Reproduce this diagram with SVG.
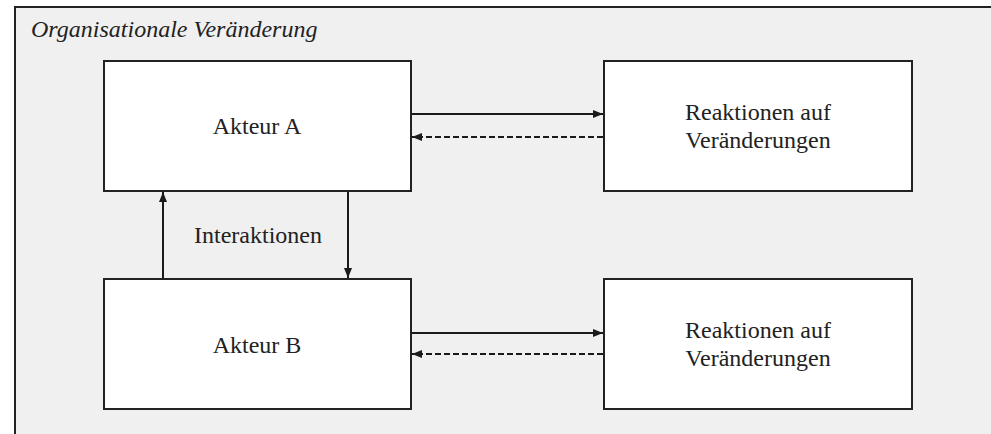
<svg xmlns="http://www.w3.org/2000/svg" width="991" height="434" viewBox="0 0 991 434">
<defs>
<marker id="ah" viewBox="0 0 10 10" refX="10" refY="5" markerWidth="10" markerHeight="10" markerUnits="userSpaceOnUse" orient="auto">
<path d="M0,1 L10,5 L0,9 Z" fill="#1a1a1a"/>
</marker>
</defs>
<style>
.serif{font-family:'Liberation Serif','Tinos','Times New Roman','DejaVu Serif',serif}
.t{font-size:24px;fill:#222;text-anchor:middle}
.title{font-size:24px;font-style:italic;fill:#222}
.box{fill:#fff;stroke:#222;stroke-width:2}
.ln{stroke:#1a1a1a;stroke-width:2;fill:none}
.dash{stroke-dasharray:6,3}
</style>
<rect x="0" y="0" width="991" height="434" fill="#fff"/>
<g id="frame">
<rect x="15" y="7" width="976" height="427" fill="#f0f0f0"/>
<path d="M15,434 V7 H991" fill="none" stroke="#222" stroke-width="2"/>
<text class="serif title" x="31" y="37">Organisationale Veränderung</text>
</g>
<g id="akteurA">
<rect class="box" x="104" y="61" width="307" height="130"/>
<text class="serif t" x="257" y="134">Akteur A</text>
</g>
<g id="reaktionA">
<rect class="box" x="604" y="61" width="308" height="130"/>
<text class="serif t" x="758" y="120">Reaktionen auf</text>
<text class="serif t" x="758" y="148">Veränderungen</text>
</g>
<g id="akteurB">
<rect class="box" x="104" y="279" width="307" height="130"/>
<text class="serif t" x="257" y="353">Akteur B</text>
</g>
<g id="reaktionB">
<rect class="box" x="604" y="279" width="308" height="130"/>
<text class="serif t" x="758" y="338">Reaktionen auf</text>
<text class="serif t" x="758" y="366">Veränderungen</text>
</g>
<g id="interaktionen-label">
<text class="serif t" x="258" y="243">Interaktionen</text>
</g>
<g id="connectors">
<line class="ln" x1="412" y1="114" x2="603" y2="114" marker-end="url(#ah)"/>
<line class="ln dash" x1="603" y1="137" x2="412" y2="137" marker-end="url(#ah)"/>
<line class="ln" x1="412" y1="333" x2="603" y2="333" marker-end="url(#ah)"/>
<line class="ln dash" x1="603" y1="354" x2="412" y2="354" marker-end="url(#ah)"/>
<line class="ln" x1="163" y1="278" x2="163" y2="192" marker-end="url(#ah)"/>
<line class="ln" x1="348" y1="192" x2="348" y2="278" marker-end="url(#ah)"/>
</g>
</svg>
